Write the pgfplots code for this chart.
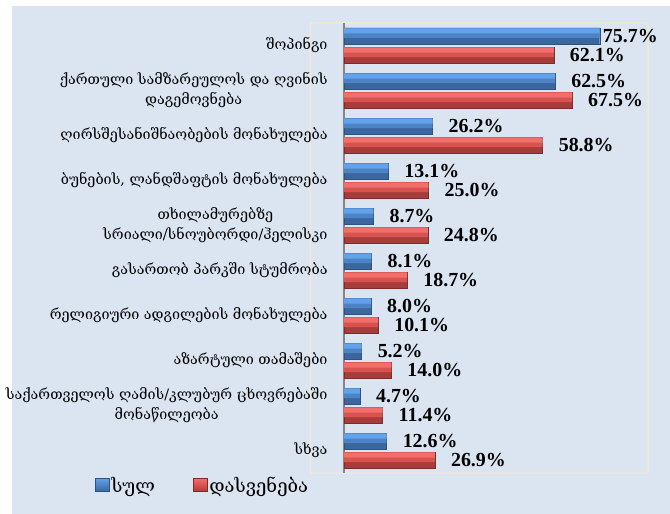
\documentclass[border=0pt]{standalone}
\usepackage{pgfplots}
\pgfplotsset{compat=1.18}
\usepackage{pgfplotstable}
\usepackage{fontspec}
\setmainfont{DejaVu Serif}
\newfontfamily\numfont{Liberation Serif}
\definecolor{bgblue}{HTML}{DBE5F1}
\definecolor{framec}{HTML}{EDE9D6}
\definecolor{axgray}{HTML}{868686}
\definecolor{bluebright}{HTML}{62A2EA}
\definecolor{bluemid}{HTML}{4D83C4}
\definecolor{bluedark}{HTML}{3A679E}
\definecolor{blueedge}{HTML}{2D527F}
\definecolor{redbright}{HTML}{F26E6C}
\definecolor{redmid}{HTML}{D8524F}
\definecolor{reddark}{HTML}{A73D3A}
\definecolor{rededge}{HTML}{7E2B29}

\pgfplotstableread{
y blue bs red rs
0 75.7 3 62.1 16
1 62.5 16 67.5 16
2 26.2 16 58.8 16
3 13.1 16 25.0 16
4 8.7 16 24.8 16
5 8.1 16 18.7 16
6 8.0 16 10.1 16
7 5.2 16 14.0 16
8 4.7 16 11.4 16
9 12.6 16 26.9 16
}\datatab

\begin{document}
\begin{tikzpicture}[x=1bp,y=1bp]
\useasboundingbox (0,0) rectangle (670,-514);
\fill[white] (0,0) rectangle (670,-514);
\fill[bgblue] (12,-6) rectangle (670,-514);
\draw[framec, line width=1.5bp, rounded corners=1bp] (310,-23) rectangle (648,-473);
\begin{axis}[
  at={(344bp,-473bp)}, anchor=south west,
  scale only axis, width=304bp, height=450bp,
  xmin=0, xmax=90, ymin=-0.5, ymax=9.5, y dir=reverse,
  hide x axis,
  axis y line*=left,
  y axis line style={-, draw=axgray, line width=2bp},
  major tick length=0pt,
  ytick={0,...,9},
  yticklabels={
    {შოპინგი},
    {ქართული სამზარეულოს და ღვინის\\დაგემოვნება},
    {ღირსშესანიშნაობების მონახულება},
    {ბუნების, ლანდშაფტის მონახულება},
    {თხილამურებზე\\სრიალი/სნოუბორდი/ჰელისკი},
    {გასართობ პარკში სტუმრობა},
    {რელიგიური ადგილების მონახულება},
    {აზარტული თამაშები},
    {საქართველოს ღამის/კლუბურ ცხოვრებაში\\მონაწილეობა},
    {სხვა}},
  yticklabel style={align=center, anchor=east, xshift=-13bp,
    font=\fontsize{14.4}{20}\selectfont},
  clip=false,
  xbar,
  lbl/.style={
    nodes near coords={\pgfmathprintnumber[fixed,fixed zerofill,precision=1]{\pgfplotspointmeta}\%},
    nodes near coords style={font=\numfont\bfseries\fontsize{20}{20}\selectfont,
      anchor=west, inner sep=0pt, text=black, xshift=\lblshift bp,
      /pgf/number format/assume math mode=true}},
  legend columns=2,
  legend style={at={(-0.83,-0.027)}, anchor=west, draw=none, fill=none,
    font=\fontsize{18.5}{20}\selectfont,
    /tikz/every even column/.append style={column sep=36bp}},
]
% blue (total)
\addplot[bar width=16bp, bar shift=9.5bp, draw=blueedge, fill=bluedark, lbl,
  visualization depends on={\thisrow{bs} \as \lblshift},
  legend image code/.code={\shade[top color=bluebright, bottom color=bluedark, middle color=bluemid, draw=blueedge] (0bp,-6.5bp) rectangle (14bp,7bp);}]
  table[x=blue, y=y]{\datatab};
\addlegendentry{სულ}
\addplot[forget plot, bar width=10bp, bar shift=12.5bp, draw=none, fill=bluemid]
  table[x=blue, y=y]{\datatab};
\addplot[forget plot, bar width=5bp, bar shift=14.5bp, draw=none, fill=bluebright]
  table[x=blue, y=y]{\datatab};
% red (leisure)
\addplot[bar width=16bp, bar shift=-9.5bp, draw=rededge, fill=reddark, lbl,
  visualization depends on={\thisrow{rs} \as \lblshift},
  legend image code/.code={\shade[top color=redbright, bottom color=reddark, middle color=redmid, draw=rededge] (0bp,-6.5bp) rectangle (14bp,7bp);}]
  table[x=red, y=y]{\datatab};
\addlegendentry{დასვენება}
\addplot[forget plot, bar width=10bp, bar shift=-6.5bp, draw=none, fill=redmid]
  table[x=red, y=y]{\datatab};
\addplot[forget plot, bar width=5bp, bar shift=-4.5bp, draw=none, fill=redbright]
  table[x=red, y=y]{\datatab};
\end{axis}
\end{tikzpicture}
\end{document}
